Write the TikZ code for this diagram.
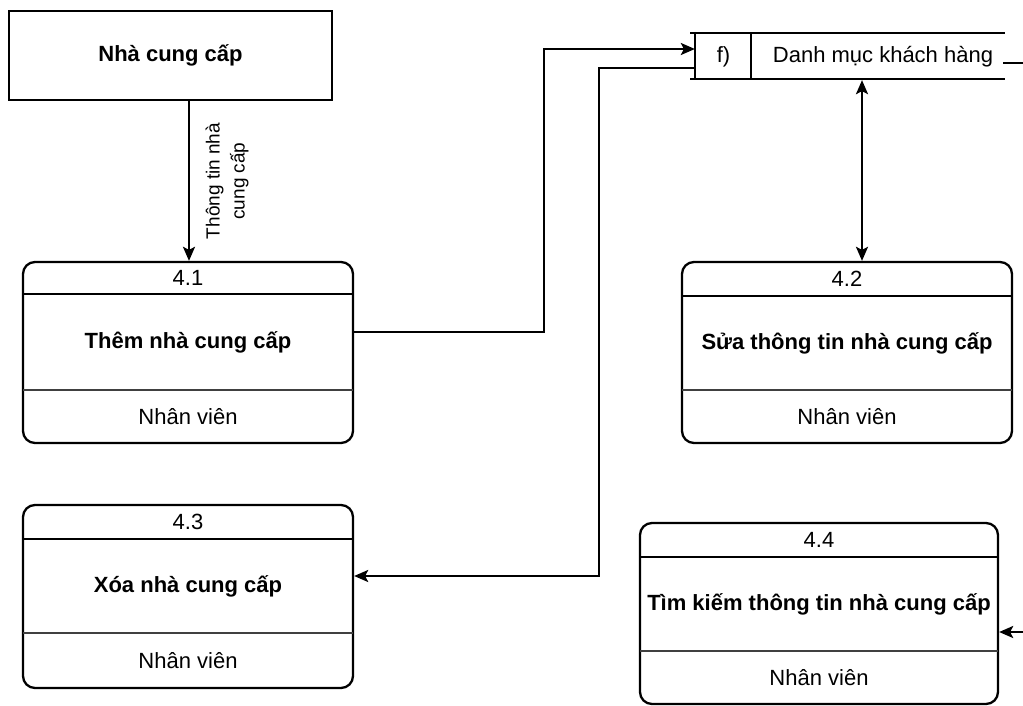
\documentclass[tikz,border=0pt]{standalone}
\usepackage{fontspec}
\setmainfont{Liberation Sans}
\usetikzlibrary{arrows.meta,calc}
\begin{document}
\begin{tikzpicture}[x=1pt,y=-1pt,
  line width=2.3pt,
  proc/.style={draw,rounded corners=12pt,inner sep=0pt},
  ent/.style={draw,inner sep=0pt},
  divthin/.style={line width=1.1pt,draw=black!75},
  txt/.style={font=\fontsize{22}{26}\selectfont,inner sep=0pt},
  ttl/.style={font=\fontsize{22}{26}\selectfont\bfseries,inner sep=0pt},
  lbl/.style={font=\fontsize{19}{25}\selectfont,align=center,inner sep=0pt},
  arr/.style={-{Stealth[length=14pt,width=12pt,inset=3pt]}},
  darr/.style={{Stealth[length=14pt,width=12pt,inset=3pt]}-{Stealth[length=14pt,width=12pt,inset=3pt]}}
]
\useasboundingbox (0,0) rectangle (1023,706);
\fill[white] (0,0) rectangle (1023,706);

% External entity
\node[ent,minimum width=323pt,minimum height=89pt] (ncc) at (170.5,55.5) {};
\node[ttl] (ncct) at (ncc.center) {Nhà cung cấp};

% Process 4.1
\node[proc,minimum width=330pt,minimum height=181pt] (p41) at (188,352.5) {};
\draw (23,294) -- (353,294);
\draw[divthin] (23,390) -- (353,390);
\node[txt] (p41n) at (188,278) {4.1};
\node[ttl] (p41t) at (188,342) {Thêm nhà cung cấp};
\node[txt] (p41a) at (188,416.5) {Nhân viên};

% Process 4.2
\node[proc,minimum width=330pt,minimum height=181pt] (p42) at (847,352.5) {};
\draw (682,296) -- (1012,296);
\draw[divthin] (682,390) -- (1012,390);
\node[txt] (p42n) at (847,279) {4.2};
\node[ttl] (p42t) at (847,343) {Sửa thông tin nhà cung cấp};
\node[txt] (p42a) at (847,416.5) {Nhân viên};

% Process 4.3
\node[proc,minimum width=330pt,minimum height=183pt] (p43) at (188,596.5) {};
\draw (23,539) -- (353,539);
\draw[divthin] (23,633) -- (353,633);
\node[txt] (p43n) at (188,522) {4.3};
\node[ttl] (p43t) at (188,586) {Xóa nhà cung cấp};
\node[txt] (p43a) at (188,660.5) {Nhân viên};

% Process 4.4
\node[proc,minimum width=358pt,minimum height=181pt] (p44) at (819,613.5) {};
\draw (640,557) -- (998,557);
\draw[divthin] (640,651) -- (998,651);
\node[txt] (p44n) at (819,540) {4.4};
\node[ttl] (p44t) at (819,604) {Tìm kiếm thông tin nhà cung cấp};
\node[txt] (p44a) at (819,677.5) {Nhân viên};

% Data store
\node[inner sep=0pt,minimum width=309pt,minimum height=46pt] (ds) at (850.5,56) {};
\draw (690,33) -- (1005,33);
\draw (690,79) -- (1005,79);
\draw (ds.north west) -- (ds.south west);
\draw (751,33) -- (751,79);
\node[txt] (dsid) at (723.5,57) {f)};
\node[txt] (dsname) at (883,57) {Danh mục khách hàng};
\coordinate (dsout) at (1003,63);

% Connectors
\draw[arr] ([xshift=18.5pt]ncc.south) -- ([xshift=18.5pt]ncc.south |- p41.north);
\node[lbl,rotate=90] (flowlbl) at (227,181) {Thông tin nhà\\cung cấp};

\draw[arr] ([yshift=20.5pt]p41.east) -- (544,332) -- (544,49) -- ([yshift=7pt]ds.west);
\draw[arr] ([yshift=-12pt]ds.west) -- (599,68) -- (599,576) -- ([yshift=20.5pt]p43.east);
\draw[darr] ([xshift=11.5pt]ds.south) -- ([xshift=11.5pt]ds.south |- p42.north);

\begin{scope}
\clip (0,0) rectangle (1023,706);
\draw[arr] (dsout) -- (1040,63) -- (1040,632) -- ([yshift=-18.5pt]p44.east);
\end{scope}
\end{tikzpicture}
\end{document}
